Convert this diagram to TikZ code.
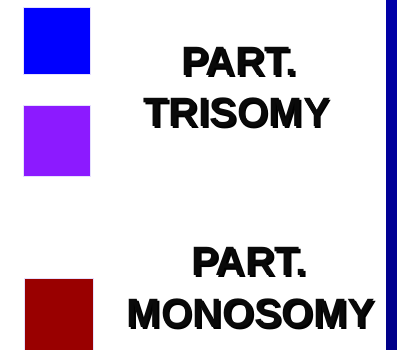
\documentclass[tikz,border=0pt]{standalone}
\usepackage{fontspec}
\setmainfont{Liberation Sans}
\definecolor{cblue}{HTML}{0000FF}
\definecolor{cpurple}{HTML}{8C1AFF}
\definecolor{cred}{HTML}{990000}
\definecolor{cbartop}{HTML}{0000A8}
\definecolor{cbarbot}{HTML}{000088}
\definecolor{cedge}{HTML}{E6E0FF}
\definecolor{ctext}{HTML}{0A0A0A}
\newcommand{\shadowtext}[1]{\makebox[0pt][l]{\kern1.8pt\raisebox{-1.8pt}{\color{black}#1}}#1}
\begin{document}
\begin{tikzpicture}[x=1pt,y=-1pt,
  swatch/.style={draw=cedge,line width=0.8pt},
  lbl/.style={anchor=base,inner sep=0pt,text=ctext,font=\fontsize{41}{48}\selectfont\bfseries}]
\useasboundingbox (0,0) rectangle (397,350);
\fill[white] (0,0) rectangle (397,350);
% colour swatches
\path[swatch,fill=cblue] (23,7) rectangle (90,74);
\path[swatch,fill=cpurple] (23,105) rectangle (90,176);
\path[swatch,fill=cred] (24,278) rectangle (93,352);
% right bar
\shade[top color=cbartop,bottom color=cbarbot] (386,0) rectangle (397,350);
% labels
\node[lbl] (p1) at (239,76) {\shadowtext{PART.}};
\node[lbl] (t1) at (237,127) {\shadowtext{TRISOMY}};
\node[lbl] (p2) at (249,276) {\shadowtext{PART.}};
\node[lbl] (m2) at (251,328) {\shadowtext{MONOSOMY}};
\end{tikzpicture}
\end{document}
